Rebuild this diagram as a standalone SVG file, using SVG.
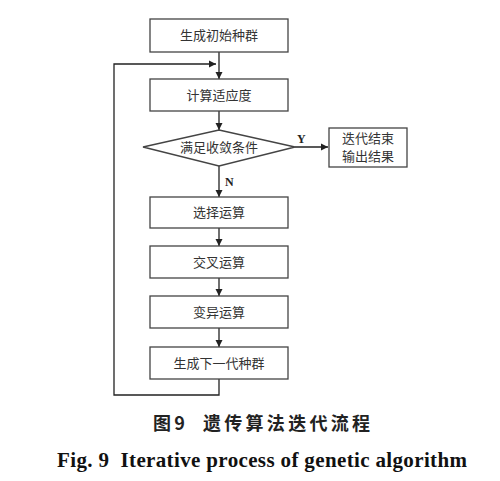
<svg xmlns="http://www.w3.org/2000/svg" width="500" height="481" viewBox="0 0 500 481">
<defs>
<marker id="ah" markerWidth="8" markerHeight="8" refX="7" refY="4" orient="auto" markerUnits="userSpaceOnUse">
<path d="M0,0.5 L7,4 L0,7.5 Z" fill="#222"/>
</marker>
<style>
.box{fill:#fff;stroke:#444;stroke-width:1.3}
.t{font-family:"Noto Sans CJK SC",sans-serif;font-size:13px;fill:#333;text-anchor:middle}
.c{stroke:#222;stroke-width:1.3;fill:none}
.lbl{font-family:"Liberation Serif",serif;font-size:12px;font-weight:bold;fill:#222}
</style>
</defs>
<rect width="500" height="481" fill="#fff"/>
<g id="connectors">
<line class="c" x1="219" y1="52" x2="219" y2="79" marker-end="url(#ah)"/>
<polyline class="c" points="219,379 219,395 114,395 114,64 216,64" marker-end="url(#ah)"/>
<line class="c" x1="219" y1="111" x2="219" y2="130" marker-end="url(#ah)"/>
<line class="c" x1="295" y1="147" x2="328" y2="147" marker-end="url(#ah)"/>
<line class="c" x1="219" y1="166" x2="219" y2="197" marker-end="url(#ah)"/>
<line class="c" x1="219" y1="228" x2="219" y2="246" marker-end="url(#ah)"/>
<line class="c" x1="219" y1="278" x2="219" y2="296" marker-end="url(#ah)"/>
<line class="c" x1="219" y1="328" x2="219" y2="347" marker-end="url(#ah)"/>
<text class="lbl" x="297" y="143">Y</text>
<text class="lbl" x="225" y="186">N</text>
</g>
<g id="n1"><rect class="box" x="150" y="19" width="138" height="33"/><text class="t" x="219" y="40">生成初始种群</text></g>
<g id="n2"><rect class="box" x="150" y="79" width="138" height="32"/><text class="t" x="219" y="100">计算适应度</text></g>
<g id="n3"><polygon class="box" points="219,130 295,147 219,166 143,147"/><text class="t" x="219" y="152">满足收敛条件</text></g>
<g id="n4"><rect class="box" x="329" y="128" width="78" height="39"/><text class="t" x="368" y="143" font-size="12.5">迭代结束</text><text class="t" x="368" y="161" font-size="12.5">输出结果</text></g>
<g id="n5"><rect class="box" x="150" y="197" width="138" height="31"/><text class="t" x="219" y="217">选择运算</text></g>
<g id="n6"><rect class="box" x="150" y="246" width="138" height="32"/><text class="t" x="219" y="267">交叉运算</text></g>
<g id="n7"><rect class="box" x="150" y="296" width="138" height="32"/><text class="t" x="219" y="317">变异运算</text></g>
<g id="n8"><rect class="box" x="150" y="347" width="138" height="32"/><text class="t" x="219" y="368">生成下一代种群</text></g>
<text x="153" y="430" font-family="Noto Sans CJK SC,sans-serif" font-size="18" font-weight="bold" fill="#222" xml:space="preserve" textLength="217" lengthAdjust="spacing">图9  遗传算法迭代流程</text>
<text x="57" y="467" font-family="Liberation Serif,serif" font-size="21" font-weight="bold" fill="#111" xml:space="preserve" textLength="410" lengthAdjust="spacing">Fig. 9  Iterative process of genetic algorithm</text>
</svg>
